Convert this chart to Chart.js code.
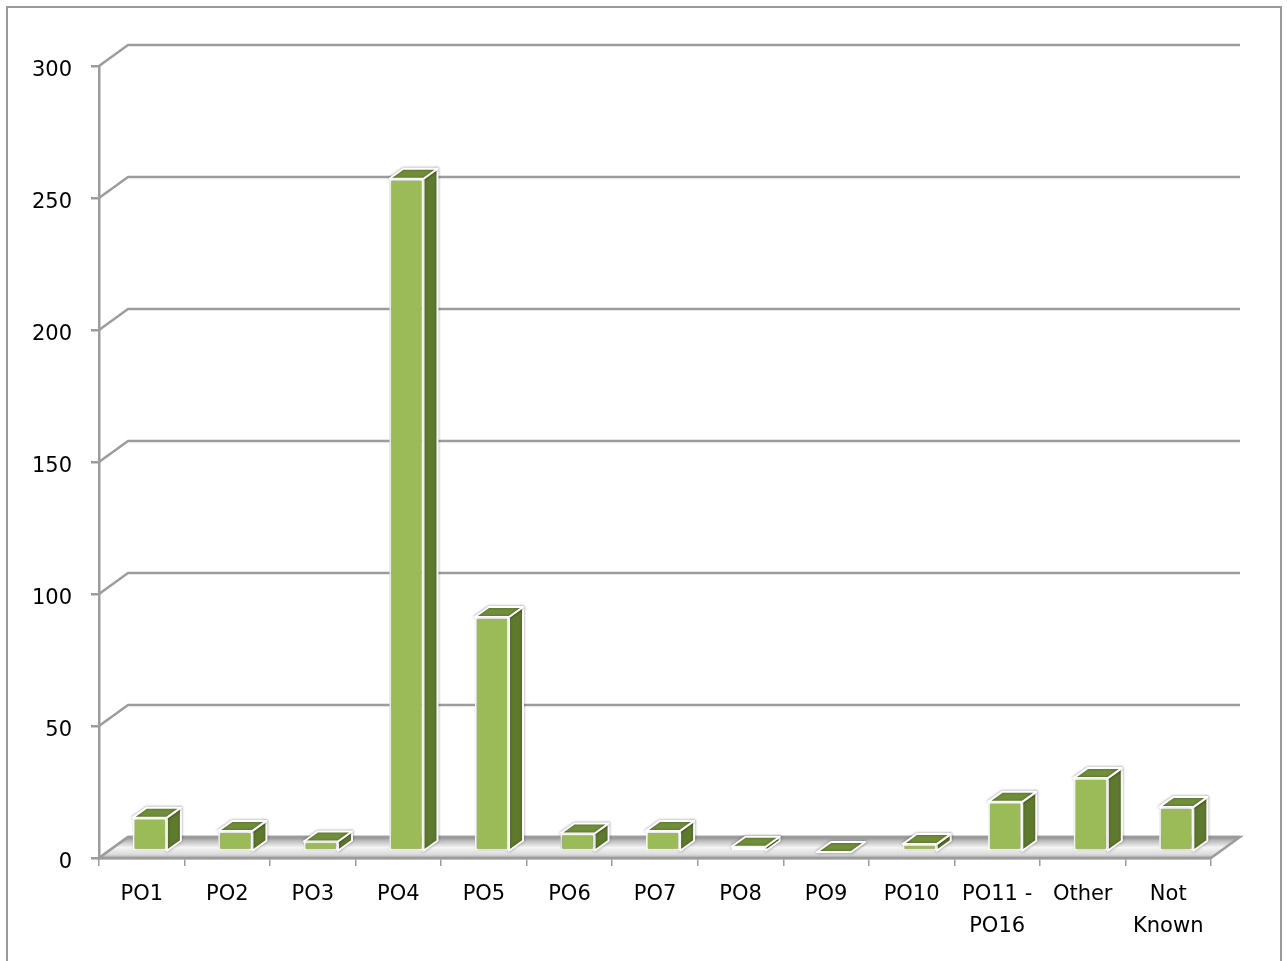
<!DOCTYPE html>
<html>
<head>
<meta charset="utf-8">
<script src="https://cdn.jsdelivr.net/npm/chart.js@4.4.0/dist/chart.umd.min.js"></script>
<style>
  html, body { margin: 0; padding: 0; background: #fff; }
</style>
</head>
<body>
<canvas id="chart" width="1287" height="961"></canvas>
<script>
// Chart data
const categories = ["PO1", "PO2", "PO3", "PO4", "PO5", "PO6", "PO7", "PO8", "PO9", "PO10", ["PO11 -", "PO16"], "Other", ["Not", "Known"]];
const counts = [13, 8, 4, 255, 89, 7, 8, 2, 0, 3, 19, 28, 17];
const yTicks = [0, 50, 100, 150, 200, 250, 300];

// Fake 3D look (oblique projection)
const wallDX = 29, wallDY = -21;
const barShiftX = 8, barShiftY = -6;
const barDX = 14, barDY = -10;
const gridColor = "#9c9c9c";
const frontColor = "#9bbb59";
const topColor = "#718f3a";
const sideColor = "#5f7a2e";

const depth3d = {
  id: "depth3d",
  beforeDraw(chart) {
    const ctx = chart.ctx;
    ctx.save();
    ctx.strokeStyle = "#9a9a9a";
    ctx.lineWidth = 2;
    ctx.strokeRect(7, 7, 1274, 1000);
    ctx.restore();
  },
  beforeDatasetsDraw(chart) {
    const { ctx, chartArea: a, scales: { y } } = chart;
    ctx.save();

    // back wall grid lines + left wall diagonals
    ctx.strokeStyle = gridColor;
    ctx.lineWidth = 2.5;
    yTicks.forEach(v => {
      const py = y.getPixelForValue(v);
      ctx.beginPath();
      ctx.moveTo(a.left, py);
      ctx.lineTo(a.left + wallDX, py + wallDY);
      ctx.lineTo(a.right + wallDX, py + wallDY);
      ctx.stroke();
    });

    // floor
    const y0 = y.getPixelForValue(0);
    const grad = ctx.createLinearGradient(0, y0 + wallDY, 0, y0);
    grad.addColorStop(0, "#8c8c8c");
    grad.addColorStop(0.18, "#bcbcbc");
    grad.addColorStop(0.5, "#f4f4f4");
    grad.addColorStop(0.82, "#dcdcdc");
    grad.addColorStop(1, "#b0b0b0");
    ctx.fillStyle = grad;
    ctx.beginPath();
    ctx.moveTo(a.left, y0);
    ctx.lineTo(a.right, y0);
    ctx.lineTo(a.right + wallDX, y0 + wallDY);
    ctx.lineTo(a.left + wallDX, y0 + wallDY);
    ctx.closePath();
    ctx.fill();
    ctx.stroke();

    // bar tops and sides
    ctx.translate(barShiftX, barShiftY);
    ctx.shadowColor = "rgba(0,0,0,0.35)";
    ctx.shadowBlur = 3;
    ctx.strokeStyle = "#ffffff";
    ctx.lineWidth = 2;
    ctx.lineJoin = "round";
    chart.getDatasetMeta(0).data.forEach(bar => {
      const L = bar.x - bar.width / 2, R = bar.x + bar.width / 2;
      const T = bar.y, B = bar.base;
      ctx.fillStyle = sideColor;
      ctx.beginPath();
      ctx.moveTo(R, T);
      ctx.lineTo(R + barDX, T + barDY);
      ctx.lineTo(R + barDX, B + barDY);
      ctx.lineTo(R, B);
      ctx.closePath();
      ctx.fill();
      ctx.stroke();
      ctx.fillStyle = topColor;
      ctx.beginPath();
      ctx.moveTo(L, T);
      ctx.lineTo(L + barDX, T + barDY);
      ctx.lineTo(R + barDX, T + barDY);
      ctx.lineTo(R, T);
      ctx.closePath();
      ctx.fill();
      ctx.stroke();
    });
    // front faces are drawn by Chart.js in this shifted space
  },
  afterDatasetsDraw(chart) {
    chart.ctx.restore();
  }
};

const chart = document.getElementById("chart");

new Chart(chart, {
  type: "bar",
  data: {
    labels: categories,
    datasets: [
      {
        data: counts,
        backgroundColor: frontColor,
        borderColor: "#ffffff",
        borderWidth: 2,
        borderSkipped: false,
        categoryPercentage: 1,
        barPercentage: 0.4,
        clip: false,
      },
    ],
  },
  options: {
    responsive: false,
    animation: false,
    layout: { padding: { top: 66, right: 76, bottom: 0, left: 0 } },
    plugins: {
      legend: { display: false },
      tooltip: { enabled: false },
    },
    scales: {
      x: {
        afterFit: s => { s.height = 103; },
        grid: { drawOnChartArea: false, offset: true, tickLength: 8, color: gridColor, lineWidth: 1.5 },
        border: { color: gridColor, width: 2.5 },
        ticks: {
          color: "#000",
          padding: 12,
          maxRotation: 0,
          autoSkip: false,
          font: { family: "DejaVu Sans", size: 21, lineHeight: 1.55 },
        },
      },
      y: {
        min: 0,
        max: 300,
        afterFit: s => { s.width = 99; },
        afterBuildTicks: s => { s.ticks = yTicks.map(v => ({ value: v })); },
        grid: { drawOnChartArea: false, tickLength: 8, color: gridColor, lineWidth: 2.5 },
        border: { color: gridColor, width: 2.5 },
        ticks: {
          color: "#000",
          padding: 19,
          labelOffset: 5,
          font: { family: "DejaVu Sans", size: 21 },
        },
      },
    },
  },
  plugins: [depth3d],
});
</script>
</body>
</html>
